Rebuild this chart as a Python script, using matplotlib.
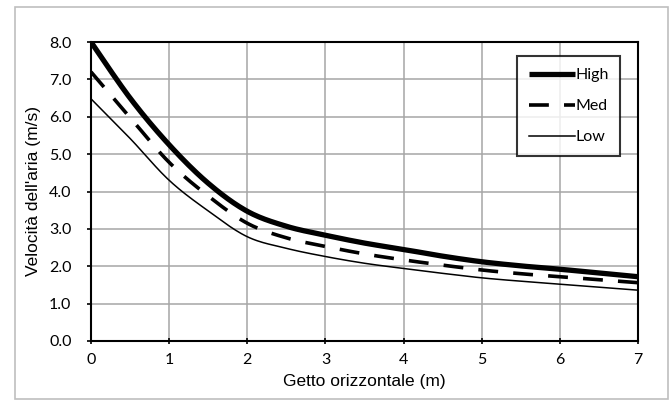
import matplotlib
matplotlib.use("Agg")
import matplotlib.pyplot as plt
import numpy as np
from matplotlib.patches import Rectangle

# distance along the jet (m)
x = [0, 0.5, 1, 1.5, 2, 2.5, 3, 3.5, 4, 4.5, 5, 5.5, 6, 6.5, 7]

high = [8.0, 6.5, 5.25, 4.22, 3.47, 3.07, 2.83, 2.62, 2.45, 2.27, 2.12, 2.01, 1.92, 1.82, 1.72]
med = [7.2, 5.98, 4.78, 3.88, 3.15, 2.76, 2.53, 2.33, 2.17, 2.03, 1.90, 1.80, 1.72, 1.64, 1.56]
low = [6.48, 5.42, 4.3, 3.48, 2.79, 2.48, 2.26, 2.08, 1.94, 1.81, 1.69, 1.60, 1.52, 1.44, 1.36]

xticks = [0, 1, 2, 3, 4, 5, 6, 7]
yticks = [0, 1, 2, 3, 4, 5, 6, 7, 8]

tick_font = ['Lato', 'DejaVu Sans']
title_font = ['Liberation Sans', 'DejaVu Sans']


def smooth(xs, ys, n=20):
    # Excel style smoothed line (Catmull-Rom through the points)
    p = np.column_stack([xs, ys]).astype(float)
    p = np.vstack([p[0], p, p[-1]])
    out = []
    t = np.linspace(0, 1, n, endpoint=False)[:, None]
    for i in range(1, len(p) - 2):
        p0, p1, p2, p3 = p[i - 1], p[i], p[i + 1], p[i + 2]
        seg = 0.5 * ((2 * p1) + (-p0 + p2) * t + (2 * p0 - 5 * p1 + 4 * p2 - p3) * t ** 2
                     + (-p0 + 3 * p1 - 3 * p2 + p3) * t ** 3)
        out.append(seg)
    out.append(p[-2][None, :])
    out = np.vstack(out)
    return out[:, 0], out[:, 1]


fig = plt.figure(figsize=(6.7, 4.01), dpi=100)
ax = fig.add_axes([91 / 670, 1 - 341 / 401, (638 - 91) / 670, (341 - 42) / 401])

# grey border round the whole chart
fig.patches.append(Rectangle((15 / 670, 2 / 401), 653 / 670, 392 / 401,
                             transform=fig.transFigure, fill=False,
                             edgecolor='#bfbfbf', linewidth=1.2))

ax.plot(*smooth(x, high), color='black', linewidth=3.8, label='High', solid_capstyle='butt')
ax.plot(*smooth(x, med), color='black', linewidth=2.6, dashes=(5.5, 4.2), label='Med')
ax.plot(*smooth(x, low), color='black', linewidth=1.1, label='Low')

ax.set_xlim(0, 7)
ax.set_ylim(0, 8)
ax.set_xticks(xticks)
ax.set_yticks(yticks)
ax.set_yticklabels(['%.1f' % v for v in yticks])
ax.grid(True, color='#a6a6a6', linewidth=1.1)
ax.set_axisbelow(True)

for s in ax.spines.values():
    s.set_linewidth(1.5)
    s.set_color('black')

ax.tick_params(axis='y', direction='out', length=3, width=1.2, pad=11)
ax.tick_params(axis='x', direction='inout', length=5, width=1.2, pad=6)
for lab in ax.get_xticklabels() + ax.get_yticklabels():
    lab.set_family(tick_font)
    lab.set_fontsize(11.5)

ax.set_xlabel("Getto orizzontale (m)", family=title_font, fontsize=12.5, labelpad=5)
ax.set_ylabel("Velocità dell'aria (m/s)", family=title_font, fontsize=12.5, labelpad=6)

leg = ax.legend(loc='upper right', bbox_to_anchor=(0.968, 0.953), borderaxespad=0,
                frameon=True, fancybox=False, handlelength=2.9, handletextpad=0.0,
                labelspacing=1.05, borderpad=0.75, prop={'family': tick_font, 'size': 11.5})
leg.get_frame().set_edgecolor('black')
leg.get_frame().set_linewidth(1.5)

fig.savefig('out.png', dpi=100)
